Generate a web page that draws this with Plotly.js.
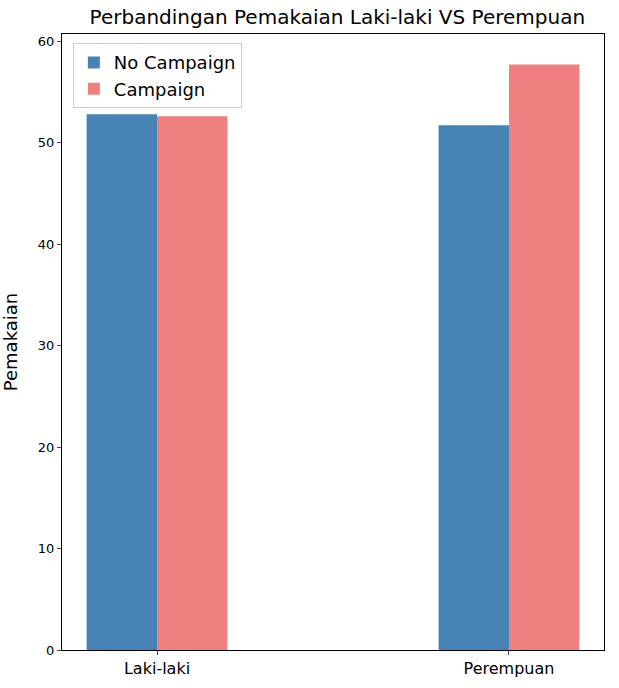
<!DOCTYPE html>
<html>
<head>
<meta charset="utf-8">
<script src="https://cdn.plot.ly/plotly-3.0.1.min.js"></script>
<style>body{margin:0;}#chart{width:619px;height:688px;}</style>
</head>
<body>
<div id="chart"></div>
<script>
var categories = ['Laki-laki', 'Perempuan'];
var noCampaign = [52.8, 51.7];
var campaign = [52.6, 57.7];

var pos = categories.map(function (c, i) { return i; });

var traces = [
  {
    x: pos.map(p => p - 0.1), y: noCampaign, type: 'bar', width: 0.2,
    name: 'No Campaign', marker: {color: '#4682b4'}
  },
  {
    x: pos.map(p => p + 0.1), y: campaign, type: 'bar', width: 0.2,
    name: 'Campaign', marker: {color: '#f08080'}
  }
];

var layout = {
  width: 619, height: 688,
  margin: {l: 62, r: 15, t: 34, b: 38},
  font: {family: 'DejaVu Sans', color: '#000'},
  title: {text: 'Perbandingan Pemakaian Laki-laki VS Perempuan', font: {size: 20}, x: 0.545, y: 0.985, yanchor: 'top'},
  showlegend: true,
  legend: {x: 0.02, y: 0.985, xanchor: 'left', yanchor: 'top', font: {size: 18},
           bordercolor: '#ccc', borderwidth: 1, bgcolor: 'rgba(255,255,255,0.8)'},
  xaxis: {
    range: [-0.27, 1.27], tickvals: pos, ticktext: categories,
    tickfont: {size: 16}, ticks: 'outside', ticklen: 4,
    showgrid: false, zeroline: false, showline: true, mirror: true, linecolor: '#000'
  },
  yaxis: {
    range: [0, 60.7], dtick: 10, tickfont: {size: 13}, ticks: 'outside', ticklen: 4,
    title: {text: 'Pemakaian', font: {size: 18}},
    showgrid: false, zeroline: false, showline: true, mirror: true, linecolor: '#000'
  },
  plot_bgcolor: '#fff', paper_bgcolor: '#fff'
};

Plotly.newPlot('chart', traces, layout, {displayModeBar: false});
</script>
</body>
</html>
